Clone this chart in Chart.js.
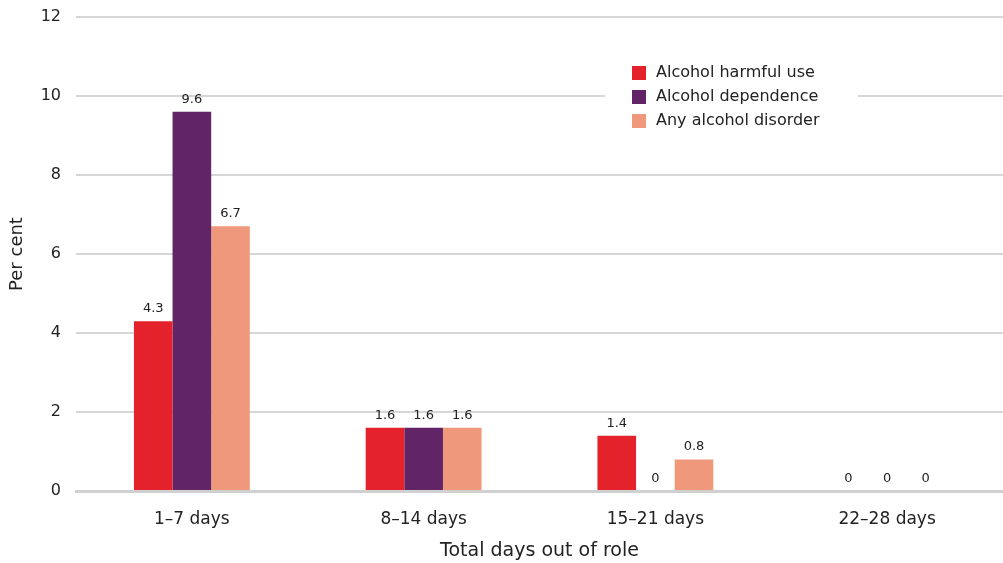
<!DOCTYPE html>
<html>
<head>
<meta charset="utf-8">
<script src="https://cdn.jsdelivr.net/npm/chart.js@4"></script>
<style>
  html, body { margin: 0; padding: 0; background: #fff; }
  #wrap { width: 1003px; height: 563px; position: relative; }
</style>
</head>
<body>
<div id="wrap"><canvas id="chart"></canvas></div>
<script>
// Data
const categories = ['1\u20137 days', '8\u201314 days', '15\u201321 days', '22\u201328 days'];
const seriesNames = ['Alcohol harmful use', 'Alcohol dependence', 'Any alcohol disorder'];
const harmfulUse = [4.3, 1.6, 1.4, 0];
const dependence = [9.6, 1.6, 0, 0];
const anyDisorder = [6.7, 1.6, 0.8, 0];
const yTicks = [0, 2, 4, 6, 8, 10, 12];

const colors = ['#e3222b', '#612467', '#f0987c'];
const FONT = '"DejaVu Sans", sans-serif';

// value labels above each bar
const valueLabels = {
    id: 'valueLabels',
    afterDatasetsDraw(chart) {
        const ctx = chart.ctx;
        ctx.save();
        ctx.font = '13px ' + FONT;
        ctx.fillStyle = '#222';
        ctx.textAlign = 'center';
        ctx.textBaseline = 'bottom';
        chart.data.datasets.forEach((ds, i) => {
            chart.getDatasetMeta(i).data.forEach((bar, j) => {
                ctx.fillText(String(ds.data[j]), bar.x, bar.y - 6);
            });
        });
        ctx.restore();
    }
};

// legend box inside the plot, top right
const boxLegend = {
    id: 'boxLegend',
    afterDraw(chart) {
        const ctx = chart.ctx;
        const x = 632, y0 = 73, step = 24;
        ctx.save();
        ctx.fillStyle = '#fff';
        ctx.fillRect(605, 58, 253, 78);
        ctx.font = '16px ' + FONT;
        ctx.textBaseline = 'middle';
        seriesNames.forEach((name, i) => {
            const y = y0 + i * step;
            ctx.fillStyle = colors[i];
            ctx.fillRect(x, y - 7, 14, 14);
            ctx.fillStyle = '#222';
            ctx.fillText(name, x + 24, y);
        });
        ctx.restore();
    }
};

new Chart(document.getElementById('chart'), {
    type: 'bar',
    data: {
        labels: categories,
        datasets: [
            { label: seriesNames[0], data: harmfulUse, backgroundColor: colors[0] },
            { label: seriesNames[1], data: dependence, backgroundColor: colors[1] },
            { label: seriesNames[2], data: anyDisorder, backgroundColor: colors[2] }
        ]
    },
    options: {
        responsive: true,
        maintainAspectRatio: false,
        animation: false,
        datasets: {
            bar: { categoryPercentage: 0.5, barPercentage: 1.0 }
        },
        layout: { padding: { top: 17, right: 0, left: 0, bottom: 0 } },
        plugins: {
            legend: { display: false },
            tooltip: { enabled: false }
        },
        scales: {
            x: {
                grid: { display: false },
                border: { display: true, color: '#d0d0d0', width: 3 },
                ticks: { color: '#222', font: { family: FONT, size: 17 }, padding: 10 },
                title: {
                    display: true,
                    text: 'Total days out of role',
                    color: '#222',
                    font: { family: FONT, size: 19 },
                    padding: { top: 6, bottom: 1 }
                },
                afterFit(scale) {
                    scale.height = 72;
                    scale.paddingLeft = 0;
                    scale.paddingRight = 0;
                }
            },
            y: {
                min: 0,
                max: 12,
                afterBuildTicks(scale) {
                    scale.ticks = yTicks.map(v => ({ value: v }));
                },
                grid: { color: '#d6d6d6', lineWidth: 2, drawTicks: false },
                border: { display: false },
                ticks: { color: '#222', font: { family: FONT, size: 16 }, padding: 15 },
                title: {
                    display: true,
                    text: 'Per cent',
                    color: '#222',
                    font: { family: FONT, size: 18 },
                    padding: { top: 7, bottom: 4 }
                },
                afterFit(scale) {
                    scale.width = 76;
                    scale.paddingTop = 0;
                    scale.paddingBottom = 0;
                }
            }
        }
    },
    plugins: [valueLabels, boxLegend]
});
</script>
</body>
</html>
